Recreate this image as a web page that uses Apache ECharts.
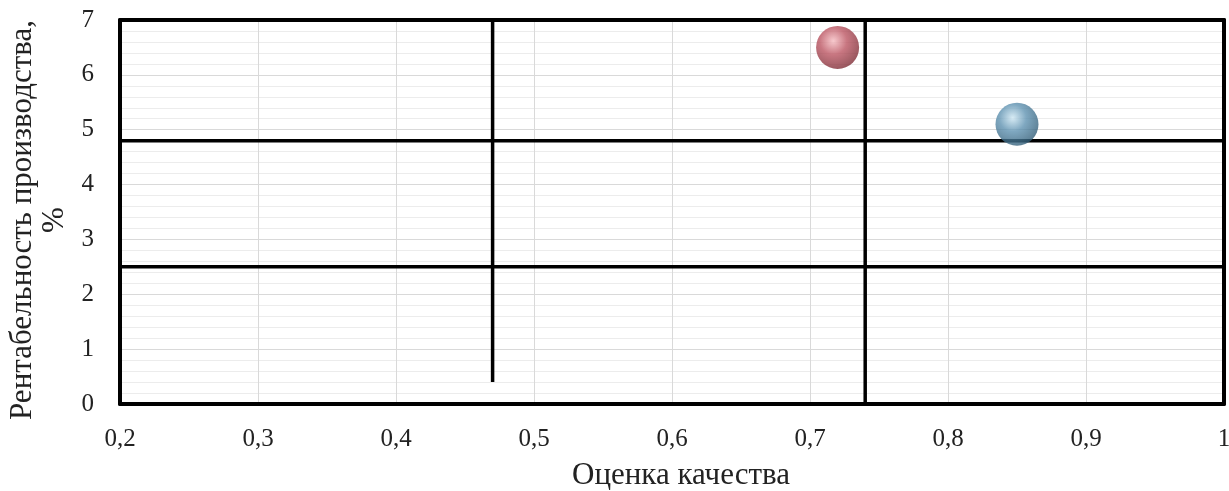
<!DOCTYPE html>
<html><head><meta charset="utf-8">
<script src="https://cdn.jsdelivr.net/npm/echarts@6/dist/echarts.min.js"></script>
<style>html,body{margin:0;padding:0;background:#fff}#c{width:1229px;height:491px}</style>
</head><body><div id="c"></div>
<script>
const xName = 'Оценка качества';
const yName = 'Рентабельность производства,\n%';
const redPoint = [[0.72, 6.5]];
const bluePoint = [[0.85, 5.1]];
const hLine1 = [[0.2, 4.8], [1, 4.8]];
const hLine2 = [[0.2, 2.5], [1, 2.5]];
const vLine1 = [[0.47, 0.4], [0.47, 7]];
const vLine2 = [[0.74, 0], [0.74, 7]];

const font = 'Liberation Serif';
function ball(light, mid, dark) {
  return new echarts.graphic.RadialGradient(0.4, 0.35, 0.7, [
    {offset: 0, color: light}, {offset: 0.45, color: mid}, {offset: 1, color: dark}
  ]);
}
function lineSeries(data) {
  return {type: 'line', data: data, symbol: 'none', lineStyle: {color: '#000', width: 3.5}, silent: true, z: 3};
}
const frame = {show: true, onZero: false, lineStyle: {color: '#000', width: 4}};
const chart = echarts.init(document.getElementById('c'));
chart.setOption({
  animation: false,
  grid: {left: 120, right: 5, top: 20, bottom: 87, outerBoundsMode: 'none', containLabel: false},
  xAxis: [{
    type: 'value', min: 0.2, max: 1, interval: 0.1, position: 'bottom',
    name: xName, nameLocation: 'middle', nameGap: 56,
    nameTextStyle: {fontFamily: font, fontSize: 31, color: '#222', padding: [0, 0, 0, 18]},
    axisLine: frame, axisTick: {show: false},
    axisLabel: {fontFamily: font, fontSize: 25, color: '#222', margin: 23,
      formatter: v => String(+v.toFixed(1)).replace('.', ',')},
    splitLine: {show: true, lineStyle: {color: '#d9d9d9', width: 1}}
  }, {
    type: 'value', min: 0.2, max: 1, position: 'top',
    axisLine: frame, axisTick: {show: false}, axisLabel: {show: false}, splitLine: {show: false}
  }],
  yAxis: [{
    type: 'value', min: 0, max: 7, interval: 1, position: 'left',
    name: yName, nameLocation: 'middle', nameGap: 47, nameRotate: 90,
    nameTextStyle: {fontFamily: font, fontSize: 31, color: '#222', lineHeight: 32, align: 'center', padding: [0, 16, 0, 0]},
    axisLine: frame, axisTick: {show: false},
    axisLabel: {fontFamily: font, fontSize: 25, color: '#222', margin: 26},
    splitLine: {show: true, lineStyle: {color: '#d9d9d9', width: 1}},
    minorTick: {show: false, splitNumber: 5},
    minorSplitLine: {show: true, lineStyle: {color: '#ececec', width: 1}}
  }, {
    type: 'value', min: 0, max: 7, position: 'right',
    axisLine: frame, axisTick: {show: false}, axisLabel: {show: false}, splitLine: {show: false}
  }],
  series: [
    lineSeries(hLine1), lineSeries(hLine2), lineSeries(vLine1), lineSeries(vLine2),
    {type: 'scatter', data: redPoint, symbolSize: 43, z: 5,
      itemStyle: {color: ball('#f5bcc1', '#bb5562', '#7a2a33')}},
    {type: 'scatter', data: bluePoint, symbolSize: 43, z: 5,
      itemStyle: {color: ball('#cde6f2', '#5f92b1', '#2f5a74')}}
  ]
});
</script></body></html>
